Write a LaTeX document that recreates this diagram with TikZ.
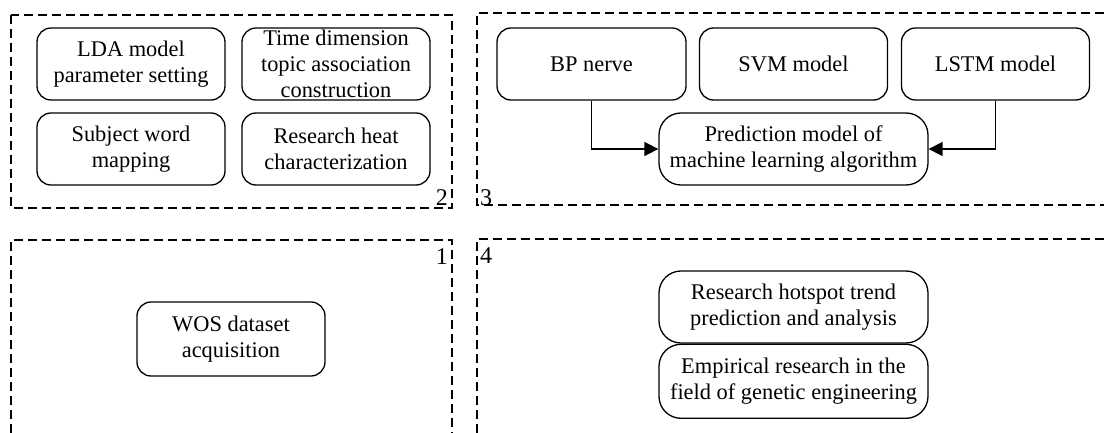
\documentclass[tikz,border=0pt]{standalone}
\usepackage{fontspec}
\setmainfont{Liberation Serif}
\usetikzlibrary{arrows.meta,positioning}

\tikzset{
  frame/.style={line width=1.2pt, dash pattern=on 9pt off 5pt},
  stage/.style={draw, line width=1.3pt, rounded corners=14pt, minimum width=188pt,
    minimum height=72pt, inner sep=0pt, align=center, font=\fontsize{22.4}{26}\selectfont},
  wide/.style={stage, rounded corners=22pt, minimum width=269pt},
  tag/.style={inner sep=0pt, font=\fontsize{24}{24}\selectfont},
  flow/.style={line width=1.6pt, -{Triangle[length=14pt,width=14pt]}}
}

\begin{document}
\begin{tikzpicture}[x=1pt,y=-1pt]
  \useasboundingbox (0,0) rectangle (1104,433);
  % dashed frames of the four parts
  \draw[frame] (11,15) rectangle (452,208);
  \draw[frame] (1104,13) -- (477,13) -- (477,205) -- (1104,205);
  \draw[frame] (11,433) -- (11,240) -- (452,240) -- (452,433);
  \draw[frame] (477,433) -- (477,239) -- (1104,239);

  % part 2
  \node[stage] (lda)  at (131,64)  {LDA model\\parameter setting};
  \node[stage] (time) at (336,64)  {Time dimension\\topic association\\construction};
  \node[stage] (subj) at (131,149) {Subject word\\mapping};
  \node[stage] (heat) at (336,149) {Research heat\\characterization};

  % part 3
  \node[stage, minimum width=189pt] (bp) at (591.5,64) {BP nerve};
  \node[stage] (svm)  at (793.5,64) {SVM model};
  \node[stage] (lstm) at (995.5,64) {LSTM model};
  \node[wide]  (pred) at (793.5,149) {Prediction model of\\machine learning algorithm};

  % part 1
  \node[stage, minimum height=74pt] (wos) at (231,339) {WOS dataset\\acquisition};

  % part 4
  \node[wide] (trend) at (793.5,307) {Research hotspot trend\\prediction and analysis};
  \node[wide, minimum height=74pt, below=0pt of trend] (emp)
    {Empirical research in the\\field of genetic engineering};

  % part numbers
  \node[tag, anchor=base east] (n2) at (448,205) {2};
  \node[tag, anchor=base west] (n3) at (480,205) {3};
  \node[tag, anchor=base east] (n1) at (448,264) {1};
  \node[tag, anchor=base west] (n4) at (480,263) {4};

  \draw[flow] (bp) |- (pred);
  \draw[flow] (lstm) |- (pred);
\end{tikzpicture}
\end{document}
